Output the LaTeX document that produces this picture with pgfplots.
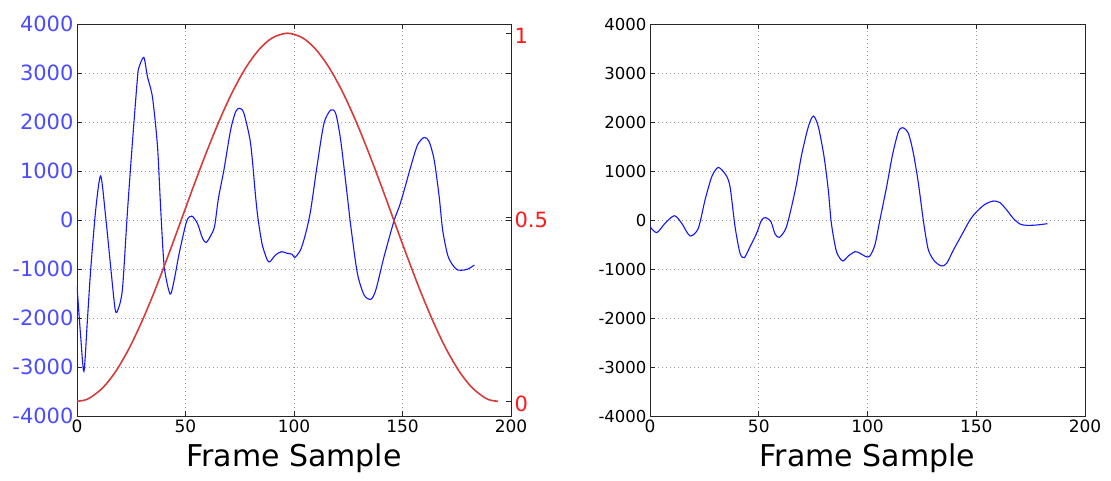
\documentclass[border=0pt]{standalone}
\usepackage{fontspec}
\setmainfont{DejaVu Sans}
\usepackage{pgfplots}
\pgfplotsset{compat=1.18}
\definecolor{tickblue}{RGB}{75,75,255}
\definecolor{sigblue}{RGB}{20,20,255}
\definecolor{winred}{RGB}{215,60,60}
\definecolor{labred}{RGB}{255,25,25}
\pgfplotsset{
  myax/.style={
    scale only axis, width=434pt, height=392pt, anchor=south west,
    xmin=0, xmax=200,
    axis line style={black!85, line width=0.9pt},
    tick style={black!85, line width=0.7pt},
    major tick length=5pt,
    tick align=inside,
    /pgf/number format/assume math mode=true,
  },
  mygrid/.style={grid=major, major grid style={gray!80, line width=0.6pt, dash pattern=on 1pt off 3pt}},
}
\begin{document}
\begin{tikzpicture}
\useasboundingbox (0,0) rectangle (1111pt,480pt);
% ---------------- left panel ----------------
\begin{axis}[myax, mygrid, at={(77pt,64pt)},
  ymin=-4000, ymax=4000,
  xtick={0,50,100,150,200}, xticklabels={0,50,100,150,200},
  ytick={-4000,-3000,...,4000},
  yticklabels={-4000,-3000,-2000,-1000,0,1000,2000,3000,4000},
  xticklabel style={font=\fontsize{17}{20}\selectfont, text=black},
  yticklabel style={font=\fontsize{21}{24}\selectfont, text=tickblue},
  xlabel={Frame Sample},
  xlabel style={font=\fontsize{30}{34}\selectfont, yshift=-4pt},
]
\addplot[sigblue, line width=1.1pt, smooth, tension=0.45] coordinates {
(0,-1350) (1.7,-2380) (3.2,-3090) (4.8,-2040) (6.3,-1020) (8.6,200) (10.9,900)
(13.2,70) (15.5,-950) (17.5,-1800) (18.6,-1860) (20.9,-1430) (23.2,140) (25.5,1560)
(27.9,2920) (28.6,3120) (30.8,3320) (32.5,2920) (34.8,2500) (37.1,1500) (38.6,200)
(40.2,-950) (42.9,-1510) (44.8,-1220) (47.1,-680) (50.5,-30) (52.9,80) (55.5,-70)
(57.8,-370) (59.5,-460) (61.6,-320) (63.4,-130) (65.2,450) (67.7,1020) (70.8,1840)
(73.1,2210) (74.9,2280) (76.9,2180) (80,1560) (82.3,480) (83.5,0) (85.4,-510)
(87.7,-816) (88.9,-850) (91.5,-714) (94.2,-646) (96.9,-680) (99.2,-700) (100.3,-768)
(103,-612) (105.4,-272) (107.7,204) (110.8,1156) (113.8,1972) (116.9,2244) (119.2,2176)
(121.5,1632) (124.6,476) (126.2,-136) (129.2,-1088) (132.3,-1530) (135.4,-1618)
(137.7,-1428) (141.5,-748) (146.2,0) (148.5,272) (150.8,612) (153.8,1088) (156.9,1530)
(160,1686) (162.3,1598) (164.6,1224) (166.9,476) (168.5,-204) (170.8,-714) (173.1,-918)
(175.4,-1020) (178.5,-1020) (180.8,-986) (183.1,-918)
};
\end{axis}
\begin{axis}[myax, at={(77pt,64pt)},
  ymin=-0.04, ymax=1.025,
  axis y line*=right, axis x line=none,
  ytick={0,0.5,1}, yticklabels={0,0.5,1},
  yticklabel style={font=\fontsize{21}{24}\selectfont, text=labred, yshift=-3pt},
]
\addplot[winred, line width=1.6pt, smooth] coordinates {
(0,0) (3,0.0024) (6,0.0094) (12,0.0373) (18,0.0826) (24,0.1436) (30,0.2181)
(36,0.3029) (42,0.3955) (48,0.4920) (54,0.5889) (60,0.6818) (66,0.7683) (72,0.8448)
(78,0.9082) (84,0.9563) (90,0.9872) (97,1) (104,0.9872) (110,0.9563) (116,0.9082)
(122,0.8448) (128,0.7683) (134,0.6818) (140,0.5889) (146,0.4920) (152,0.3955)
(158,0.3029) (164,0.2181) (170,0.1436) (176,0.0826) (182,0.0373) (188,0.0094)
(191,0.0024) (194,0)
};
\end{axis}
% ---------------- right panel ----------------
\begin{axis}[myax, mygrid, at={(650pt,64pt)}, width=435pt,
  ymin=-4000, ymax=4000,
  xtick={0,50,100,150,200}, xticklabels={0,50,100,150,200},
  ytick={-4000,-3000,...,4000},
  yticklabels={-4000,-3000,-2000,-1000,0,1000,2000,3000,4000},
  xticklabel style={font=\fontsize{17}{20}\selectfont, text=black},
  yticklabel style={font=\fontsize{16.5}{20}\selectfont, text=black},
  xlabel={Frame Sample},
  xlabel style={font=\fontsize{30}{34}\selectfont, yshift=-4pt},
]
\addplot[sigblue, line width=1.1pt, smooth, tension=0.45] coordinates {
(0,-136) (3.1,-258) (6.9,-68) (11.2,88) (14.6,-68) (18.4,-326) (22.2,-170) (25.3,408)
(28.4,884) (31.4,1074) (34.9,918) (36.8,680) (39.1,-136) (41.4,-680) (43.4,-768)
(46,-544) (49,-272) (51.3,0) (53.2,48) (55.6,-34) (57.5,-286) (59.5,-354) (62.5,-170)
(65.1,272) (67.4,748) (69.7,1330) (72.8,1904) (75.1,2122) (77.4,1904) (80,1300)
(82,600) (83.2,0) (84.5,-380) (86,-680) (88.6,-836) (91.2,-734) (94.3,-646) (96.6,-680)
(99.3,-748) (101.1,-734) (103.4,-510) (105.7,0) (108.8,680) (111.5,1330) (114.2,1802)
(116.2,1884) (118.8,1768) (121.1,1360) (123.4,748) (125.8,-50) (128,-612) (131,-850)
(134.1,-938) (136.4,-884) (139.5,-612) (143.3,-306) (147.1,0) (150.2,170) (154,320)
(157.9,388) (160.9,354) (164,204) (167,34) (170.1,-82) (173.2,-109) (177.8,-102)
(182.7,-75)
};
\end{axis}
\end{tikzpicture}
\end{document}
